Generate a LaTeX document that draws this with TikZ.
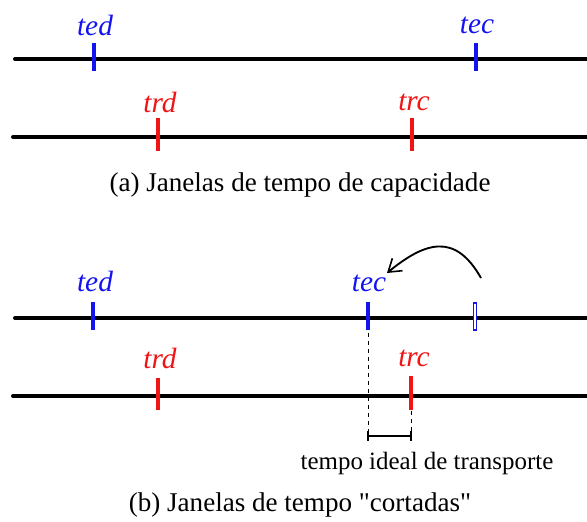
\documentclass[tikz,border=0pt]{standalone}
\usepackage{fontspec}
\setmainfont{Liberation Serif}
\usetikzlibrary{arrows.meta,positioning,calc}
\definecolor{emblue}{RGB}{20,20,240}
\definecolor{remred}{RGB}{240,20,20}

\begin{document}
\begin{tikzpicture}[
    x=0.75pt, y=-0.75pt,
    axis/.style={line width=3pt, line cap=round},
    tick/.style={line width=3pt},
    lbl/.style={font=\fontsize{22}{25}\selectfont\itshape, inner sep=0pt},
    capt/.style={font=\fontsize{20.3}{23}\selectfont, inner sep=0pt},
    >={Straight Barb[length=9pt, width=12pt, line width=1.2pt]}
  ]
    \useasboundingbox (0,0) rectangle (587,522);
    % (a) capacidade
    \draw[axis] (15,59) -- (587,59);
    \draw[axis] (13,137) -- (587,137);
    \draw[tick, emblue] (94,43) -- (94,71);
    \draw[tick, emblue] (476,43) -- (476,71);
    \draw[tick, remred] (158,118) -- (158,151);
    \draw[tick, remred] (412,118) -- (412,151);
    \node[lbl, emblue] (ted1) at (95,25) {ted};
    \node[lbl, emblue] (tec1) at (477,25) {tec};
    \node[lbl, remred] (trd1) at (160,102) {trd};
    \node[lbl, remred] (trc1) at (414,102) {trc};
    \node[capt] (capa) at (300,185) {(a) Janelas de tempo de capacidade};

    % (b) cortadas
    \draw[axis] (15,318) -- (587,318);
    \draw[axis] (13,396) -- (587,396);
    \draw[tick, emblue] (93,302) -- (93,330);
    \draw[tick, emblue] (368,302) -- (368,330);
    \draw[emblue, fill=white, line width=0.8pt] (473.5,303) rectangle (476.5,330);
    \draw[tick, remred] (158,378) -- (158,410);
    \draw[tick, remred] (411,376) -- (411,410);
    \node[lbl, emblue] (ted2) at (95,281) {ted};
    \node[lbl, emblue] (tec2) at (369,283) {tec};
    \node[lbl, remred] (trd2) at (160,358) {trd};
    \node[lbl, remred] (trc2) at (414,358) {trc};
    \coordinate (old) at (481,278);
    \draw[->, line width=1.4pt] (old) .. controls (455,232) and (425,242) .. (387,273);
    % tempo ideal
    \coordinate (ecut) at (368,333);
    \coordinate (rcut) at (411,411);
    \draw[dashed, line width=0.6pt] (ecut) -- (368,440);
    \draw[dashed, line width=0.6pt] (rcut) -- (411,440);
    \draw[line width=0.8pt] (368,436) -- (411,436);
    \draw[line width=0.8pt] (368,431) -- (368,441) (411,431) -- (411,441);
    \node[capt, font=\fontsize{18.7}{21}\selectfont] (ideal) at (427,463) {tempo ideal de transporte};
    \node[capt] (capb) at (300,505) {(b) Janelas de tempo \textquotedbl cortadas\textquotedbl};
  \end{tikzpicture}
\end{document}
